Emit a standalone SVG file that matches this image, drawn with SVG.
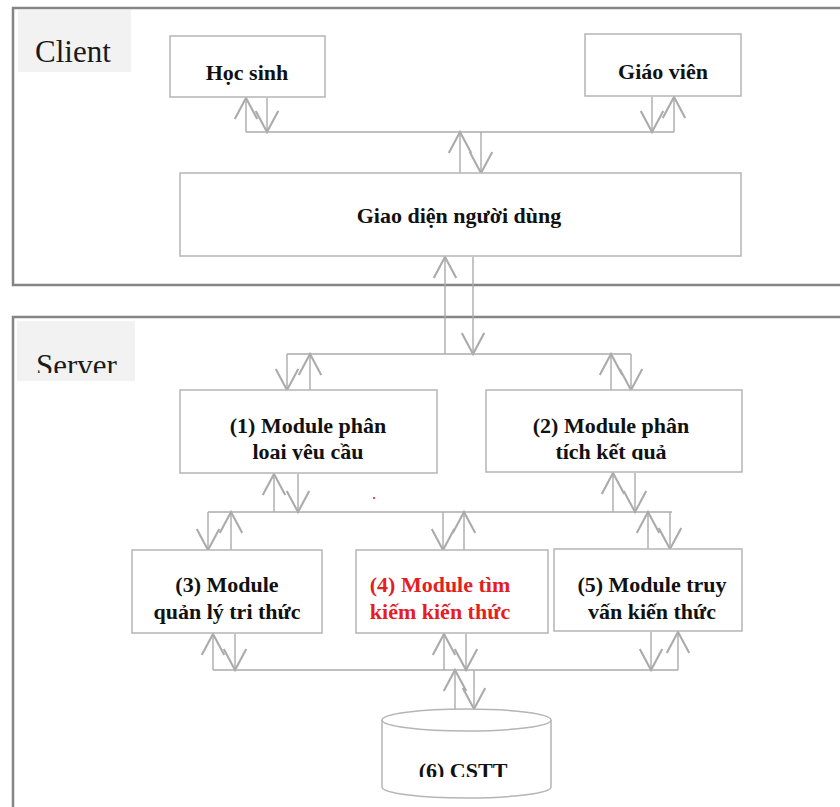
<svg xmlns="http://www.w3.org/2000/svg" width="840" height="807" viewBox="0 0 840 807">
  <style>
    .frame { fill: none; stroke: #858585; stroke-width: 2.5; }
    .tag { fill: #f2f2f2; stroke: none; }
    .tagtext { font-family: "Liberation Serif", "Times New Roman", serif; font-size: 31px; fill: #1a1a1a; }
    .box { fill: #ffffff; stroke: #b5b5b5; stroke-width: 1.5; }
    .label { font-family: "Liberation Serif", "Times New Roman", serif; font-size: 22px; font-weight: bold; fill: #111111; text-anchor: middle; }
    .red { fill: #e3201f; }
    .wire { fill: none; stroke: #ababab; stroke-width: 1.4; }
    .arrow { fill: none; stroke: #ababab; stroke-width: 1.4; marker-end: url(#head); }
  </style>
  <defs>
    <marker id="head" markerUnits="userSpaceOnUse" markerWidth="30" markerHeight="30" refX="0" refY="0" viewBox="-16 -10 18 20" orient="auto" overflow="visible">
      <path d="M -14 -7.5 L 0 0 L -14 7.5" fill="none" stroke="#ababab" stroke-width="1.4"/>
    </marker>
    <clipPath id="clipServer"><rect x="0" y="300" width="200" height="73"/></clipPath>
    <clipPath id="clipM1"><rect x="180" y="390" width="257" height="70"/></clipPath>
    <clipPath id="clipM2"><rect x="486" y="390" width="256" height="70"/></clipPath>
    <clipPath id="clipDb"><rect x="382" y="730" width="169" height="47"/></clipPath>
  </defs>

  <rect x="0" y="0" width="840" height="807" fill="#ffffff"/>

  <!-- Client and server zones -->
  <g id="zone-client">
    <rect class="frame" x="13" y="8" width="840" height="277"/>
    <rect class="tag" x="18" y="10" width="113" height="62"/>
    <text class="tagtext" x="35" y="62">Client</text>
  </g>
  <g id="zone-server">
    <rect class="frame" x="13" y="317" width="840" height="520"/>
    <rect class="tag" x="17" y="321" width="118" height="60"/>
    <text class="tagtext" x="36" y="376" clip-path="url(#clipServer)">Server</text>
  </g>

  <!-- Connectors -->
  <g id="connectors">
    <!-- client bus -->
    <line class="wire" x1="246" y1="132" x2="674" y2="132"/>
    <line class="arrow" x1="246" y1="132" x2="246" y2="98"/>
    <line class="arrow" x1="267" y1="98" x2="267" y2="132"/>
    <line class="arrow" x1="652" y1="97" x2="652" y2="132"/>
    <line class="arrow" x1="674" y1="132" x2="674" y2="97"/>
    <line class="arrow" x1="460" y1="173" x2="460" y2="132"/>
    <line class="arrow" x1="481" y1="132" x2="481" y2="173"/>

    <!-- interface to server -->
    <line class="arrow" x1="445" y1="354" x2="445" y2="257"/>
    <line class="arrow" x1="473" y1="257" x2="473" y2="354"/>

    <!-- server top bus -->
    <line class="wire" x1="287" y1="354" x2="631" y2="354"/>
    <line class="arrow" x1="287" y1="354" x2="287" y2="390"/>
    <line class="arrow" x1="310" y1="390" x2="310" y2="354"/>
    <line class="arrow" x1="611" y1="390" x2="611" y2="354"/>
    <line class="arrow" x1="631" y1="354" x2="631" y2="390"/>

    <!-- middle bus -->
    <line class="wire" x1="208" y1="512" x2="672" y2="512"/>
    <line class="arrow" x1="274" y1="512" x2="274" y2="474"/>
    <line class="arrow" x1="298" y1="474" x2="298" y2="512"/>
    <line class="arrow" x1="613" y1="512" x2="613" y2="473"/>
    <line class="arrow" x1="635" y1="473" x2="635" y2="512"/>
    <line class="arrow" x1="208" y1="512" x2="208" y2="550"/>
    <line class="arrow" x1="231" y1="550" x2="231" y2="512"/>
    <line class="arrow" x1="443" y1="512" x2="443" y2="550"/>
    <line class="arrow" x1="464" y1="550" x2="464" y2="512"/>
    <line class="arrow" x1="648" y1="549" x2="648" y2="512"/>
    <line class="arrow" x1="670" y1="512" x2="670" y2="549"/>

    <!-- bottom bus -->
    <line class="wire" x1="213" y1="670" x2="678" y2="670"/>
    <line class="arrow" x1="213" y1="670" x2="213" y2="634"/>
    <line class="arrow" x1="235" y1="634" x2="235" y2="670"/>
    <line class="arrow" x1="444" y1="670" x2="444" y2="634"/>
    <line class="arrow" x1="466" y1="634" x2="466" y2="670"/>
    <line class="arrow" x1="651" y1="632" x2="651" y2="670"/>
    <line class="arrow" x1="678" y1="670" x2="678" y2="632"/>
    <line class="arrow" x1="455" y1="709" x2="455" y2="670"/>
    <line class="arrow" x1="474" y1="670" x2="474" y2="709"/>
  </g>

  <!-- stray dot -->
  <circle cx="374" cy="498" r="1.1" fill="#e3201f"/>

  <!-- Nodes -->
  <g id="hoc-sinh">
    <rect class="box" x="170" y="36" width="155" height="61"/>
    <text class="label" x="247" y="80">Học sinh</text>
  </g>
  <g id="giao-vien">
    <rect class="box" x="585" y="34" width="156" height="62"/>
    <text class="label" x="663" y="79">Giáo viên</text>
  </g>
  <g id="giao-dien">
    <rect class="box" x="180" y="173" width="561" height="83"/>
    <text class="label" x="459" y="223">Giao diện người dùng</text>
  </g>
  <g id="module-1">
    <rect class="box" x="180" y="390" width="257" height="83"/>
    <g clip-path="url(#clipM1)">
      <text class="label" x="308" y="433">(1) Module phân</text>
      <text class="label" x="308" y="459">loại yêu cầu</text>
    </g>
  </g>
  <g id="module-2">
    <rect class="box" x="486" y="390" width="256" height="82"/>
    <g clip-path="url(#clipM2)">
      <text class="label" x="611" y="433">(2) Module phân</text>
      <text class="label" x="611" y="459">tích kết quả</text>
    </g>
  </g>
  <g id="module-3">
    <rect class="box" x="132" y="550" width="190" height="83"/>
    <text class="label" x="227" y="592">(3) Module</text>
    <text class="label" x="227" y="619">quản lý tri thức</text>
  </g>
  <g id="module-4">
    <rect class="box" x="356" y="550" width="192" height="83"/>
    <text class="label red" x="440" y="592">(4) Module tìm</text>
    <text class="label red" x="440" y="619">kiếm kiến thức</text>
  </g>
  <g id="module-5">
    <rect class="box" x="554" y="549" width="188" height="82"/>
    <text class="label" x="652" y="592">(5) Module truy</text>
    <text class="label" x="652" y="619">vấn kiến thức</text>
  </g>
  <g id="cstt">
    <path class="box" d="M 382 720 L 382 787 A 84.5 11 0 0 0 551 787 L 551 720"/>
    <ellipse class="box" cx="466.5" cy="720" rx="84.5" ry="11"/>
    <text class="label" x="463" y="778" clip-path="url(#clipDb)">(6) CSTT</text>
  </g>
</svg>
